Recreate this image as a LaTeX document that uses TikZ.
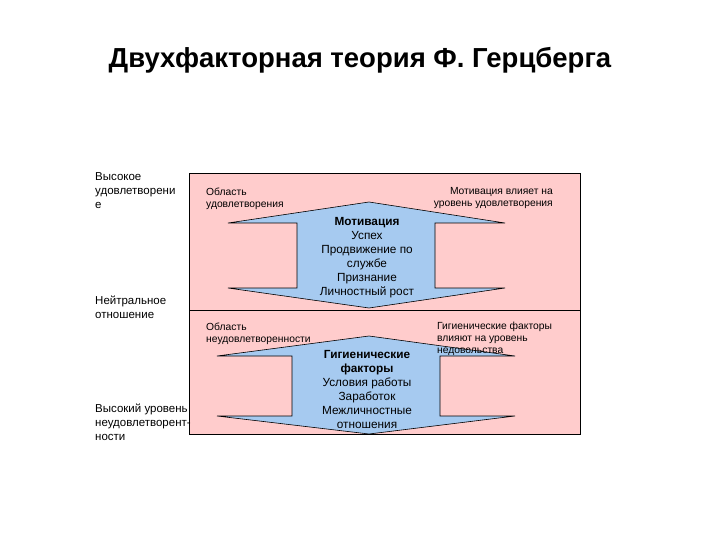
\documentclass[tikz,border=0pt]{standalone}
\usepackage{fontspec}
\setmainfont{Liberation Sans}
\definecolor{skyb}{RGB}{166,202,240}
\definecolor{pinkr}{RGB}{255,204,204}
\begin{document}
\begin{tikzpicture}[x=1pt,y=-1pt,
  region/.style={draw=black,fill=pinkr,line width=0.6pt},
  arr/.style={draw=black,fill=skyb,line width=0.6pt},
  side/.style={font=\fontsize{11.5}{14}\selectfont,align=left,anchor=north west,inner sep=0pt},
  small/.style={font=\fontsize{10.3}{12}\selectfont,inner sep=0pt},
  center/.style={font=\fontsize{11.8}{14}\selectfont,align=center,inner sep=0pt}]
\useasboundingbox (0,0) rectangle (720,540);
\node[font=\bfseries\fontsize{27.5}{30}\selectfont] (title) at (360,60) {Двухфакторная теория Ф. Герцберга};
\path[region] (189,173) rectangle (580,310);
\path[region] (189,310) rectangle (580,434);
\path[arr] (228,223) -- (369,202) -- (505,223) -- (435,223) -- (435,288) -- (505,288) -- (369,308) -- (228,288) -- (297,288) -- (297,223) -- cycle;
\path[arr] (217,356) -- (369,336) -- (515,356) -- (440,356) -- (440,416) -- (515,416) -- (369,434) -- (217,416) -- (292,416) -- (292,356) -- cycle;
\node[side] (l1) at (95,172) {Высокое\\удовлетворени\\е};
\node[side] (l2) at (95,296) {Нейтральное\\отношение};
\node[side] (l3) at (95,404) {Высокий уровень\\неудовлетворент-\\ности};
\node[small,align=left,anchor=north west] (a1) at (206,188) {Область\\удовлетворения};
\node[small,align=right,anchor=north east] (a2) at (553,187) {Мотивация влияет на\\уровень удовлетворения};
\node[small,align=left,anchor=north west] (a3) at (206,323) {Область\\неудовлетворенности};
\node[small,align=left,anchor=north west] (a4) at (437,322) {Гигиенические факторы\\влияют на уровень\\недовольства};
\node[center,anchor=north] (c1) at (367,217) {\textbf{Мотивация}\\Успех\\Продвижение по\\службе\\Признание\\Личностный рост};
\node[center,anchor=north] (c2) at (367,350) {\textbf{Гигиенические}\\\textbf{факторы}\\Условия работы\\Заработок\\Межличностные\\отношения};
\end{tikzpicture}
\end{document}
